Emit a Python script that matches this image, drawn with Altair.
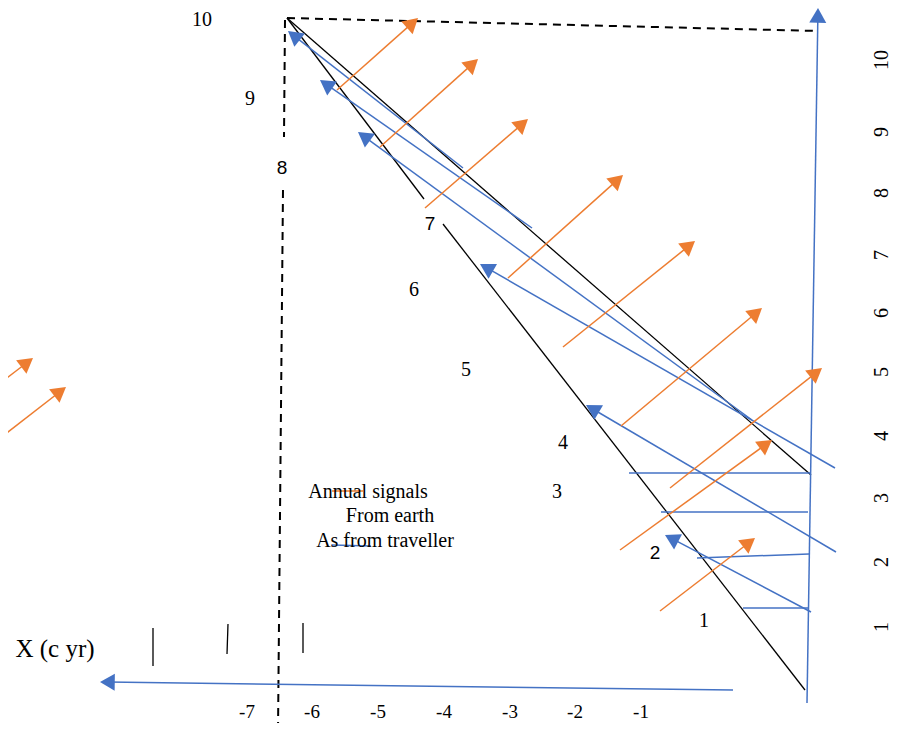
import altair as alt
import pandas as pd
import numpy as np

BLUE = "#4472C4"
ORANGE = "#ED7D31"
BLACK = "#000000"

# ---- Diagram data (page-pixel coordinates) ----
# black world lines (solid)
black_x1 = [287, 443, 287, 153, 228, 303]
black_y1 = [18, 224, 18, 628, 624, 623]
black_x2 = [424, 805, 811, 153, 227, 303]
black_y2 = [199, 690, 475, 666, 654, 653]

# black dashed lines
dash_x1 = [285, 283, 287]
dash_y1 = [20, 190, 18]
dash_x2 = [284, 278, 818]
dash_y2 = [137, 731, 31]

# blue plain lines (horizontal signals + legend sample)
blue_x1 = [629, 661, 697, 743, 332]
blue_y1 = [473, 512, 558, 608, 545]
blue_x2 = [811, 808, 809, 808, 371]
blue_y2 = [473, 512, 554, 608, 546]

# blue arrows (tail -> tip)
blue_tail_x = [463, 532, 752, 835, 836, 811, 733, 807]
blue_tail_y = [168, 228, 420, 468, 552, 612, 690, 703]
blue_tip_x = [288, 320, 358, 480, 586, 665, 100, 818]
blue_tip_y = [31, 80, 132, 264, 405, 535, 682, 8]

# orange arrows (tail -> tip)
orange_tail_x = [337, 380, 425, 508, 563, 621, 670, 620, 660, -5, -5]
orange_tail_y = [90, 147, 208, 278, 347, 426, 488, 550, 611, 387, 442]
orange_tip_x = [418, 478, 528, 623, 695, 762, 822, 772, 755, 33, 66]
orange_tip_y = [18, 59, 119, 175, 241, 308, 368, 440, 538, 358, 387]

# orange legend sample
orange_x1 = [332]
orange_y1 = [491]
orange_x2 = [363]
orange_y2 = [491]

# serif labels
serif_text = ["10", "9", "6", "5", "4", "3", "1"]
serif_x = [202, 250, 414, 466, 563, 557, 704]
serif_y = [20, 99, 290, 370, 443, 492, 621]

# bottom x labels
bottom_text = ["-7", "-6", "-5", "-4", "-3", "-2", "-1"]
bottom_x = [247, 312, 378, 444, 510, 575, 641]
bottom_y = [712] * 7

# sans labels
sans_text = ["8", "7", "2"]
sans_x = [282, 430, 655]
sans_y = [168, 224, 553]

# rotated right-hand axis labels
right_text = ["10", "9", "8", "7", "6", "5", "4", "3", "2", "1"]
right_x = [882] * 10
right_y = [60, 132, 193, 255, 313, 372, 436, 498, 562, 627]

# legend text
legend_text = ["Annual signals", "From earth", "As from traveller"]
legend_x = [368, 390, 385]
legend_y = [492, 516, 541]

axis_text = ["X (c yr)"]
axis_x = [55]
axis_y = [649]

HEAD_SIZE = 290

# plot area sits at page (8, 8); domains chosen so data = page pixels
XS = alt.Scale(domain=[8, 900], nice=False, zero=False)
YS = alt.Scale(domain=[723, 8], nice=False, zero=False)


def seg_df(x1, y1, x2, y2):
    return pd.DataFrame({"x1": x1, "y1": y1, "x2": x2, "y2": y2})


def arrow_dfs(tx, ty, px, py, size):
    tx, ty, px, py = map(lambda a: np.asarray(a, float), (tx, ty, px, py))
    dx, dy = px - tx, py - ty
    L = np.hypot(dx, dy)
    ux, uy = dx / L, dy / L
    h = 0.433 * np.sqrt(size)
    cx, cy = px - ux * h, py - uy * h
    ang = (np.degrees(np.arctan2(dx, -dy)) + 360) % 360
    shafts = pd.DataFrame({"x1": tx, "y1": ty, "x2": cx, "y2": cy})
    heads = pd.DataFrame({"x": cx, "y": cy, "ang": ang})
    return shafts, heads


def rules(df, color, width, dash=None):
    kw = dict(color=color, strokeWidth=width)
    if dash:
        kw["strokeDash"] = dash
    return alt.Chart(df).mark_rule(**kw).encode(
        x=alt.X("x1:Q", scale=XS, axis=None),
        y=alt.Y("y1:Q", scale=YS, axis=None),
        x2="x2:Q",
        y2="y2:Q",
    )


def heads(df, color):
    return alt.Chart(df).mark_point(
        shape="triangle-up", filled=True, color=color, opacity=1,
        size=HEAD_SIZE, strokeWidth=0
    ).encode(
        x=alt.X("x:Q", scale=XS, axis=None),
        y=alt.Y("y:Q", scale=YS, axis=None),
        angle=alt.Angle("ang:Q", scale=None),
    )


def texts(txt, x, y, font, size, angle=0):
    df = pd.DataFrame({"t": txt, "x": x, "y": y})
    return alt.Chart(df).mark_text(
        font=font, fontSize=size, color=BLACK, align="center",
        baseline="middle", angle=angle
    ).encode(
        x=alt.X("x:Q", scale=XS, axis=None),
        y=alt.Y("y:Q", scale=YS, axis=None),
        text="t:N",
    )


b_shafts, b_heads = arrow_dfs(blue_tail_x, blue_tail_y, blue_tip_x, blue_tip_y, HEAD_SIZE)
o_shafts, o_heads = arrow_dfs(orange_tail_x, orange_tail_y, orange_tip_x, orange_tip_y, HEAD_SIZE)

layers = [
    rules(seg_df(black_x1, black_y1, black_x2, black_y2), BLACK, 1.3),
    rules(seg_df(dash_x1, dash_y1, dash_x2, dash_y2), BLACK, 2, [8, 6]),
    rules(seg_df(blue_x1, blue_y1, blue_x2, blue_y2), BLUE, 1.5),
    rules(b_shafts, BLUE, 1.5),
    rules(seg_df(orange_x1, orange_y1, orange_x2, orange_y2), ORANGE, 1.5),
    rules(o_shafts, ORANGE, 1.5),
    heads(b_heads, BLUE),
    heads(o_heads, ORANGE),
    texts(serif_text, serif_x, serif_y, "Liberation Serif", 20),
    texts(bottom_text, bottom_x, bottom_y, "Liberation Serif", 19),
    texts(sans_text, sans_x, sans_y, "Liberation Sans", 19),
    texts(right_text, right_x, right_y, "Liberation Serif", 20, angle=270),
    texts(legend_text, legend_x, legend_y, "Liberation Serif", 20),
    texts(axis_text, axis_x, axis_y, "Liberation Serif", 25),
]

chart = alt.layer(*layers).properties(
    width=892, height=715,
    autosize=alt.AutoSizeParams(type="none"),
    padding=0,
    background="white",
).configure_view(stroke=None)

chart.save("out.html", embed_options={"renderer": "svg", "actions": False})
